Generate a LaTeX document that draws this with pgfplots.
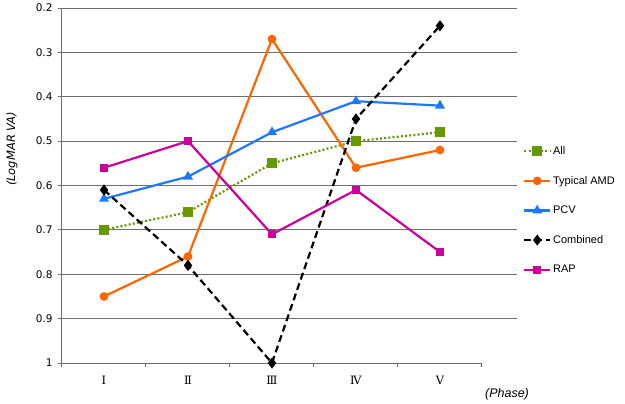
\documentclass[border=0pt]{standalone}
\usepackage{fontspec}
\setmainfont{Liberation Sans}
\newfontfamily\dejavu{DejaVu Sans}
\newfontfamily\romanfont{DejaVu Serif}
\usepackage{pgfplots}
\pgfplotsset{compat=1.18}

\definecolor{cAll}{RGB}{102,153,0}
\definecolor{cAMD}{RGB}{255,102,0}
\definecolor{cPCV}{RGB}{30,120,255}
\definecolor{cRAP}{RGB}{204,0,153}
\definecolor{gridgray}{RGB}{110,110,110}

\begin{document}
\begin{tikzpicture}
\begin{axis}[
  scale only axis, width=455bp, height=355bp,
  xmin=0.5, xmax=5.917, ymin=0.2, ymax=1, y dir=reverse,
  clip=false,
  axis x line*=bottom, axis y line*=left,
  x axis line style={draw=none},
  y axis line style={gridgray, line width=1bp},
  xtick={0.5,1.5,2.5,3.5,4.5,5.5},
  xticklabels={Ⅰ,Ⅱ,Ⅲ,Ⅳ,Ⅴ,},
  xticklabel style={font=\romanfont\fontsize{11.5bp}{12bp}\selectfont, xshift=42bp, yshift=-6bp},
  ytick={0.2,0.3,0.4,0.5,0.6,0.7,0.8,0.9},
  extra y ticks={1}, extra y tick style={grid=none},
  yticklabel style={font=\dejavu\fontsize{10.5bp}{12bp}\selectfont, /pgf/number format/assume math mode=true, xshift=-2bp},
  /pgf/number format/fixed, /pgf/number format/precision=1,
  tick align=outside, major tick length=4bp,
  tick style={gridgray, line width=1bp},
  ymajorgrids, grid style={gridgray, line width=1bp},
  ylabel={(LogMAR VA)},
  ylabel style={at={([xshift=-50bp]rel axis cs:0,0.603)}, anchor=center, font=\dejavu\itshape\fontsize{11.5bp}{13bp}\selectfont},
  xlabel={(Phase)},
  xlabel style={at={([yshift=-31bp]rel axis cs:0.978,0)}, anchor=center, font=\itshape\fontsize{12.5bp}{14bp}\selectfont},
  legend style={at={(rel axis cs:1.007,0.622)}, anchor=north west, draw=none, fill=none,
    font=\fontsize{11bp}{12bp}\selectfont, row sep=16.3bp, cells={anchor=west}},
  legend image code/.code={\draw[mark repeat=2,mark phase=2] plot coordinates {(0cm,0cm) (0.45cm,0cm) (0.9cm,0cm)};},
]
\addplot[cAll, line width=2.2bp, dash pattern=on 2bp off 2.2bp, mark=square*, mark size=3.8bp, mark options={solid}]
  coordinates {(1,0.70)(2,0.66)(3,0.55)(4,0.50)(5,0.48)};
\addlegendentry{All}
\addplot[cAMD, line width=2.2bp, mark=*, mark size=3.2bp]
  coordinates {(1,0.85)(2,0.76)(3,0.27)(4,0.56)(5,0.52)};
\addlegendentry{Typical AMD}
\addplot[cPCV, line width=2.2bp, mark=triangle*, mark size=3.6bp]
  coordinates {(1,0.63)(2,0.58)(3,0.48)(4,0.41)(5,0.42)};
\addlegendentry{PCV}
\addplot[black, line width=2.2bp, dash pattern=on 7bp off 4bp, mark=diamond*, mark size=3.8bp, mark options={solid}]
  coordinates {(1,0.61)(2,0.78)(3,1.00)(4,0.45)(5,0.24)};
\addlegendentry{Combined}
\addplot[cRAP, line width=2.2bp, mark=square*, mark size=3bp]
  coordinates {(1,0.56)(2,0.50)(3,0.71)(4,0.61)(5,0.75)};
\addlegendentry{RAP}
\draw[gridgray, line width=1bp] (axis cs:0.5,1) -- (axis cs:5.5,1);
\path (rel axis cs:0,0) ++(-62bp,-38bp);
\path (rel axis cs:1,1) ++(108bp,8bp);
\end{axis}
\end{tikzpicture}
\end{document}
